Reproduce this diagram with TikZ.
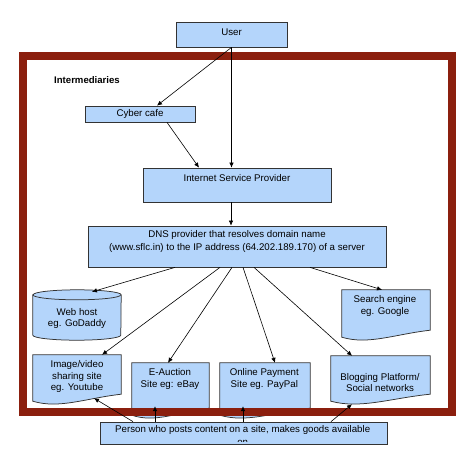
\documentclass[tikz,border=0pt]{standalone}
\usepackage{fontspec}
\setmainfont{Liberation Sans}
\usetikzlibrary{arrows.meta,backgrounds,calc}
\definecolor{boxblue}{HTML}{B4D5FB}
\definecolor{framered}{HTML}{8B1F0E}
\definecolor{edgegray}{HTML}{333333}
\newcommand\docshape[1]{%
  \filldraw[doc] (#1.north west) -- (#1.north east) -- ([yshift=10pt]#1.south east)
    .. controls ($(#1.south west)!0.6!(#1.south east)+(0,6)$) and ($(#1.south west)!0.3!(#1.south east)+(0,-5)$) .. ([yshift=3pt]#1.south west) -- cycle;}
\begin{document}
\begin{tikzpicture}[x=1pt,y=1pt,
  box/.style={draw=edgegray, line width=0.75pt, fill=boxblue, inner sep=0pt},
  hold/.style={inner sep=0pt},
  txt/.style={font=\fontsize{9.7}{11.7}\selectfont, align=center, inner sep=0pt},
  doc/.style={draw=edgegray, line width=0.75pt, fill=boxblue},
  arr/.style={-{Latex[length=5pt,width=4.5pt]}, line width=0.6pt, black}]
\useasboundingbox (0,0) rectangle (473,-460);

% boxes
\node[box, minimum width=111pt, minimum height=25pt] (user) at (231.5,-34.5) {};
\node[txt] (usertxt) at (231.5,-32) {User};
\node[box, minimum width=110pt, minimum height=16pt] (cyber) at (140,-114) {};
\node[txt] (cybertxt) at (140,-114) {Cyber cafe};
\node[box, minimum width=188pt, minimum height=34pt] (isp) at (237,-185) {};
\node[txt] (isptxt) at (237,-178) {Internet Service Provider};
\node[box, minimum width=298pt, minimum height=41pt] (dns) at (237,-246.5) {};
\node[txt, font=\fontsize{9.7}{12.7}\selectfont] (dnstxt) at (237,-241.3) {DNS provider that resolves domain name\\(www.sflc.in) to the IP address (64.202.189.170) of a server};

\node[hold, minimum width=88pt, minimum height=50pt] (webhost) at (77,-315) {};
\node[hold, minimum width=88pt, minimum height=50pt] (search) at (386,-315) {};
\node[hold, minimum width=88pt, minimum height=49pt] (image) at (77,-379.5) {};
\node[hold, minimum width=77pt, minimum height=55pt] (eauction) at (170.5,-390.5) {};
\node[hold, minimum width=90pt, minimum height=55pt] (payment) at (265,-390.5) {};
\node[hold, minimum width=99pt, minimum height=48pt] (blog) at (380.5,-380) {};

\begin{scope}[on background layer]
  \docshape{search}
  \docshape{image}
  \docshape{eauction}
  \docshape{payment}
  \docshape{blog}
  \filldraw[doc] ([yshift=-5pt]webhost.north west) -- ([yshift=5pt]webhost.south west)
    arc[start angle=180, end angle=360, x radius=44, y radius=5]
    -- ([yshift=-5pt]webhost.north east)
    arc[start angle=0, end angle=180, x radius=44, y radius=5] -- cycle;
  \draw[doc, fill=none] ([yshift=-5pt]webhost.north west)
    arc[start angle=180, end angle=360, x radius=44, y radius=5];
\end{scope}

\node[txt] (webhosttxt) at (77,-318.5) {Web host\\eg. GoDaddy};
\node[txt] (searchtxt) at (385,-306) {Search engine\\eg. Google};
\node[txt] (imagetxt) at (77,-376.5) {Image/video\\sharing site\\eg. Youtube};
\node[txt] (eauctiontxt) at (170,-379.2) {E-Auction\\Site eg: eBay};
\node[txt] (paymenttxt) at (264.3,-379.2) {Online Payment\\Site eg. PayPal};
\node[txt] (blogtxt) at (380,-382.5) {Blogging Platform/\\Social networks};
\node[txt, font=\bfseries\fontsize{9.6}{11.7}\selectfont] (intermed) at (87,-80) {Intermediaries};

% frame
\draw[framered, line width=8pt] (23,-56) rectangle (452,-412);

% person box
\node[box, minimum width=287pt, minimum height=22pt] (person) at (243.5,-433) {};
\begin{scope}
  \clip ([yshift=2.5pt]person.south west) rectangle (person.north east);
  \node[txt, font=\fontsize{9.7}{12.5}\selectfont, anchor=north] (persontxt) at (242.7,-425.5) {Person who posts content on a site, makes goods available\\on};
\end{scope}

% connectors
\draw[arr] (user.south) -- ([xshift=17pt]cyber.north);
\draw[arr] ([xshift=27pt]cyber.south) -- ([xshift=-38pt]isp.north);
\draw[arr] (user.south) -- (user.south |- isp.north);
\draw[arr] ([xshift=-6pt]isp.south) -- ([xshift=-6pt]dns.north);

\draw[arr] ([xshift=-62pt]dns.south) -- ([xshift=15pt,yshift=-2pt]webhost.north);
\draw[arr] ([xshift=-17pt]dns.south) -- ([xshift=25pt]image.north);
\draw[arr] ([xshift=-5pt]dns.south) -- ([xshift=-2.5pt]eauction.north);
\draw[arr] ([xshift=6pt]dns.south) -- ([xshift=10pt]payment.north);
\draw[arr] ([xshift=17pt]dns.south) -- ([xshift=-28.5pt]blog.north);
\draw[arr] ([xshift=73pt]dns.south) -- ([xshift=-4pt]search.north);

\draw[arr] ([xshift=-110.5pt]person.north) -- ([xshift=17pt,yshift=6pt]image.south);
\draw[arr] ([xshift=-88.5pt]person.north) -- ([xshift=-15.5pt,yshift=12pt]eauction.south);
\draw[arr] ([xshift=-0.5pt]person.north) -- ([xshift=-22pt,yshift=12pt]payment.south);
\draw[arr] ([xshift=87.5pt]person.north) -- ([xshift=-28.5pt]blog.south);
\end{tikzpicture}
\end{document}
